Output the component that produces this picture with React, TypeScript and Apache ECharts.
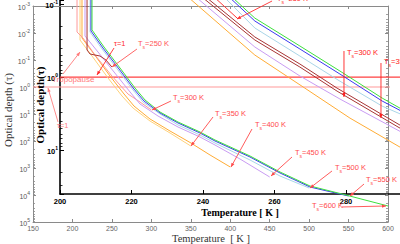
import React, { useEffect, useRef } from 'react';
import * as echarts from 'echarts';

// Lower (outer) panel: temperature profiles [T (K), optical depth], one per surface temperature
const profile250 = [[218.5, 4.6e-4], [218.5, 0.0427], [222.3, 0.06], [234.9, 0.0711], [242.5, 0.1], [250, 0.182]];
const profile300 = [[205.8, 4.6e-4], [205.8, 0.0092], [213.4, 0.0153], [228.6, 0.0653], [250.1, 0.392], [270.4, 1.82], [285.6, 3.59], [300, 7.1]];
const profile350 = [[209.6, 4.6e-4], [209.6, 0.0182], [224.8, 0.0711], [245.1, 0.464], [262.8, 2.15], [276.8, 6.0], [298.3, 18.2], [323.7, 50.6], [350, 153]];
const profile400 = [[212.1, 4.6e-4], [212.1, 0.0153], [227.3, 0.06], [247.6, 0.392], [265.4, 1.82], [278, 5.06], [298.3, 15.3], [323.7, 42.7], [350.3, 119], [374.4, 330], [400, 918]];
const profile450 = [[215.9, 4.6e-4], [215.9, 0.0129], [232.4, 0.0506], [252.7, 0.278], [273, 1.53], [285.6, 4.26], [308.5, 11.9], [333.8, 30.3], [361.7, 71.1], [380.7, 141], [412.4, 464], [450, 2150]];
const profile500 = [[222.3, 4.6e-4], [222.3, 0.0092], [237.5, 0.039], [257.7, 0.234], [276.8, 1.29], [289.4, 3.59], [311, 10], [333.8, 25.5], [361.7, 60], [380.7, 119], [425.1, 506], [463.1, 1980], [500, 5510]];
const profile550 = [[223.5, 4.6e-4], [223.5, 0.0084], [238.7, 0.036], [259, 0.215], [278, 1.19], [290.7, 3.3], [311, 9.18], [333.8, 21.5], [361.7, 50.6], [380.7, 100], [425.1, 392], [463.1, 1530], [501.1, 5060], [550, 10900]];
const profile600 = [[224.8, 4.6e-4], [224.8, 0.0077], [240, 0.033], [260.3, 0.198], [279.3, 1.09], [292, 3.03], [311, 8.43], [333.8, 19.8], [361.7, 46.4], [380.7, 91.8], [425.1, 359], [463.1, 1406], [501.1, 4640], [541.7, 9180], [570.8, 15300], [600, 25500]];

// Inset panel: upper-atmosphere profiles [T (K), optical depth]
const inset250 = [[243.1, 0.0802], [249.8, 0.16]];
const insetOrange = [[235.8, 0.0802], [254.5, 0.5], [268.5, 1.42], [281.1, 3.65], [296.5, 10]];
const insetLilac = [[238, 0.0802], [254.5, 0.388], [267.1, 0.968], [278.3, 2.0], [296.5, 6.04]];
const insetBrownA = [[240.8, 0.0802], [254.5, 0.283], [267.1, 0.664], [277.5, 1.42], [296.5, 5.0]];
const insetBrownB = [[239.7, 0.0802], [254.5, 0.311], [267.1, 0.73], [277.5, 1.56], [296.5, 5.5]];
const insetLightBlue = [[245.9, 0.0802], [254.5, 0.213], [267.1, 0.516], [278.3, 1.14], [290.1, 2.5], [296.5, 3.42]];
const insetBlue = [[247.3, 0.0802], [254.5, 0.171], [267.1, 0.413], [278.3, 0.91], [290.1, 2.13], [296.5, 3.11]];
const insetGreen = [[248.1, 0.0802], [254.5, 0.156], [267.1, 0.376], [278.3, 0.828], [290.1, 1.94], [296.5, 2.92]];

// tau = 1 reference lines
const tauOneOuter = [[150, 1], [620, 1]];
const tauOneInset = [[200, 1], [300, 1]];

// Annotations in lower-panel data space: [T (K), log10 optical depth]
const notes = [
  { text: 'τ=1', at: [252.7, -1.556], from: [252.7, -1.444], to: [231.1, -0.444], color: '#ff2a2a', size: 7.5 },
  { ts: 250, at: [283.1, -1.556], from: [281.8, -1.407], to: [250.1, -0.741], color: '#ff5555' },
  { text: 'Tropopause', at: [174.1, -0.259], from: [188, -0.481], to: [209.6, -1.296], color: '#ff7b7b', size: 8 },
  { text: 'τ=1', at: [180.4, 1.481], from: [181.7, 1.296], to: [169, 0.037], color: '#ff8080', size: 7.5 },
  { ts: 250, at: [459.3, -3.259], from: [453, -3.185], to: [408.6, -2.519], color: '#ff3030' },
  { ts: 300, at: [548, -1.259], from: [544.2, -1.333], to: [544.2, 0.37], color: '#ff2020' },
  { ts: 350, at: [594.9, -0.889], from: [591.1, -0.889], to: [591.1, 1.148], color: '#ff2020' },
  { ts: 300, at: [327.5, 0.444], from: [324.9, 0.519], to: [300.8, 0.852], color: '#ff4a4a' },
  { ts: 350, at: [380.7, 1.0], from: [378.2, 1.111], to: [350.3, 2.185], color: '#ff4a4a' },
  { ts: 400, at: [431.4, 1.444], from: [427.6, 1.556], to: [401, 2.963], color: '#ff4a4a' },
  { ts: 450, at: [482.1, 2.481], from: [478.3, 2.593], to: [451.7, 3.296], color: '#ff4a4a' },
  { ts: 500, at: [532.8, 3.0], from: [529, 3.111], to: [501.1, 3.741], color: '#ff4a4a' },
  { ts: 550, at: [572.1, 3.481], from: [569.6, 3.593], to: [551.8, 4.037], color: '#ff4a4a' },
  { ts: 600, at: [503.7, 4.444], from: [541.7, 4.444], to: [597.5, 4.407], color: '#ff4a4a' },
];

const C = {
  brown: '#a83434',
  pink: '#ff9a9a',
  lightOrange: '#ffd27a',
  orange: '#ffac35',
  lilac: '#c99cf3',
  lightBlue: '#a9d6e8',
  blue: '#3a3af0',
  green: '#3ee03e',
  red: '#ff3a3a',
};

const expLabel = (v: number) => {
  const e = Math.log10(v);
  const r = Math.round(e);
  if (Math.abs(e - r) > 1e-6) return '';
  return `{b|10}{s|${r}}`;
};

export default function App() {
  const ref = useRef<HTMLDivElement>(null);
  useEffect(() => {
    const chart = echarts.init(ref.current as HTMLDivElement, null, { renderer: 'svg', width: 400, height: 244 });
    const grayLine = { lineStyle: { color: '#8a8a8a', width: 1 } };
    const outerRich = {
      b: { fontSize: 7, color: '#555', fontFamily: 'Liberation Sans', lineHeight: 9, verticalAlign: 'bottom' },
      s: { fontSize: 5, color: '#555', fontFamily: 'Liberation Sans', lineHeight: 9, verticalAlign: 'top' },
    };
    const insetRich = {
      b: { fontSize: 7.5, color: '#000', fontWeight: 'bold', fontFamily: 'Liberation Sans', lineHeight: 10, verticalAlign: 'bottom' },
      s: { fontSize: 5, color: '#000', fontWeight: 'bold', fontFamily: 'Liberation Sans', lineHeight: 10, verticalAlign: 'top' },
    };
    const line = (data: number[][], color: string, xi: number, yi: number, width = 1, z = 2) => ({
      type: 'line', data, xAxisIndex: xi, yAxisIndex: yi, symbol: 'none', showSymbol: false, clip: false,
      silent: true, z, lineStyle: { color, width },
    });
    const grayMinor = { show: true, splitNumber: 9, length: 2, lineStyle: { color: '#8a8a8a', width: 0.8 } };
    chart.setOption({
      animation: false,
      backgroundColor: '#fff',
      grid: [
        { left: 33, right: 12, top: 6, bottom: 22, containLabel: false, outerBoundsMode: 'none' },
        { left: 60, right: 0, top: 0, bottom: 50, containLabel: false, outerBoundsMode: 'none' },
      ],
      xAxis: [
        {
          type: 'value', gridIndex: 0, min: 150, max: 600, interval: 50, position: 'bottom',
          axisLine: grayLine, axisTick: { inside: true, length: 3, ...grayLine },
          axisLabel: { color: '#666', fontSize: 7, fontFamily: 'Liberation Sans', margin: 3 },
          splitLine: { show: false },
        },
        {
          type: 'value', gridIndex: 0, min: 150, max: 600, interval: 50, position: 'top',
          axisLine: grayLine, axisTick: { inside: true, length: 3, ...grayLine },
          axisLabel: { show: false }, splitLine: { show: false },
        },
        {
          type: 'value', gridIndex: 1, min: 200, max: 295.1, interval: 20, position: 'bottom',
          axisLine: { lineStyle: { color: '#000', width: 1.6 } },
          axisTick: { inside: true, length: 4, lineStyle: { color: '#000', width: 1 } },
          axisLabel: {
            color: '#000', fontSize: 7.5, fontWeight: 'bold', fontFamily: 'Liberation Sans', margin: 3,
            formatter: (v: number) => (Math.abs(v % 20) < 1e-6 ? String(v) : ''),
          },
          splitLine: { show: false },
        },
      ],
      yAxis: [
        {
          type: 'log', gridIndex: 0, min: 1e-3, max: 1e5, inverse: true, position: 'left',
          axisLine: grayLine, axisTick: { inside: true, length: 3, ...grayLine },
          minorTick: grayMinor,
          axisLabel: { formatter: expLabel, rich: outerRich, margin: 3 },
          splitLine: { show: false },
        },
        {
          type: 'log', gridIndex: 0, min: 1e-3, max: 1e5, inverse: true, position: 'right',
          axisLine: grayLine, axisTick: { inside: true, length: 3, ...grayLine },
          minorTick: grayMinor,
          axisLabel: { show: false }, splitLine: { show: false },
        },
        {
          type: 'log', gridIndex: 1, min: 0.0881, max: 40, inverse: true, position: 'left',
          axisLine: { lineStyle: { color: '#000', width: 1.6 } },
          axisTick: { inside: true, length: 4, lineStyle: { color: '#000', width: 1 } },
          minorTick: { show: true, splitNumber: 9, length: 2.5, lineStyle: { color: '#000', width: 0.8 } },
          axisLabel: { formatter: expLabel, rich: insetRich, margin: 2 },
          splitLine: { show: false },
        },
      ],
      series: [
        line(tauOneOuter, '#ff9a9a', 0, 0, 1.2, 1),
        line(tauOneInset, '#ff4040', 2, 2, 1.3, 1),
        line(insetOrange, C.orange, 2, 2),
        line(insetLilac, C.lilac, 2, 2),
        line(insetBrownA, C.brown, 2, 2),
        line(insetBrownB, C.brown, 2, 2),
        line(insetLightBlue, C.lightBlue, 2, 2),
        line(insetBlue, C.blue, 2, 2),
        line(insetGreen, C.green, 2, 2),
        line(inset250, C.red, 2, 2),
        line(profile350, C.lightOrange, 0, 0),
        line(profile400, C.orange, 0, 0),
        line(profile300, C.pink, 0, 0),
        line(profile450, C.lilac, 0, 0),
        line(profile250, C.brown, 0, 0),
        line(profile500, C.lightBlue, 0, 0),
        line(profile550, C.blue, 0, 0),
        line(profile600, C.green, 0, 0),
      ],
    });

    const px = (p: number[]) =>
      chart.convertToPixel({ xAxisIndex: 0, yAxisIndex: 0 }, [p[0], Math.pow(10, p[1])]) as number[];

    const elements: any[] = [];
    notes.forEach((n: any) => {
      const a = px(n.at);
      const f = px(n.from);
      const t = px(n.to);
      elements.push({
        type: 'line', silent: true, z: 50,
        shape: { x1: f[0], y1: f[1], x2: t[0], y2: t[1] },
        style: { stroke: n.color, lineWidth: 0.9 },
      });
      const dx = t[0] - f[0];
      const dy = t[1] - f[1];
      const len = Math.hypot(dx, dy) || 1;
      const ux = dx / len;
      const uy = dy / len;
      const L = 4;
      const W = 1.7;
      elements.push({
        type: 'polygon', silent: true, z: 51,
        shape: {
          points: [
            [t[0], t[1]],
            [t[0] - L * ux + W * uy, t[1] - L * uy - W * ux],
            [t[0] - L * ux - W * uy, t[1] - L * uy + W * ux],
          ],
        },
        style: { fill: n.color },
      });
      const size = n.size || 7.5;
      const text = n.ts ? `{t|T}{s|s}{t|=${n.ts} K}` : `{t|${n.text}}`;
      elements.push({
        type: 'text', silent: true, z: 52, x: a[0], y: a[1],
        style: {
          text,
          fill: n.color,
          align: 'left', verticalAlign: 'middle', textAlign: 'left', textVerticalAlign: 'middle',
          rich: {
            t: { fontSize: size, fontFamily: 'Liberation Sans', fill: n.color, color: n.color, lineHeight: 10, verticalAlign: 'top' },
            s: { fontSize: 5, fontFamily: 'Liberation Sans', fill: n.color, color: n.color, lineHeight: 10, verticalAlign: 'bottom' },
          },
        },
      });
    });

    const title = (text: string, x: number, y: number, font: string, fill: string, rotate = false) => ({
      type: 'text', silent: true, z: 60, x, y, rotation: rotate ? Math.PI / 2 : 0,
      style: { text, font, fill, align: 'center', verticalAlign: 'middle', textAlign: 'center', textVerticalAlign: 'middle' },
    });
    elements.push(title('Temperature  [ K ]', 211, 238, '10.5px "Liberation Serif"', '#333'));
    elements.push(title('Optical depth (τ)', 8, 110, '11px "Liberation Serif"', '#333', true));
    elements.push(title('Temperature [ K ]', 240, 212, 'bold 10px "Liberation Serif"', '#000'));
    elements.push(title('Optical depth(τ)', 40, 105, 'bold 11px "Liberation Serif"', '#000', true));

    chart.setOption({ graphic: elements });
    return () => chart.dispose();
  }, []);
  return <div ref={ref} style={{ position: 'fixed', left: 0, top: 0, width: 400, height: 244 }} />;
}
